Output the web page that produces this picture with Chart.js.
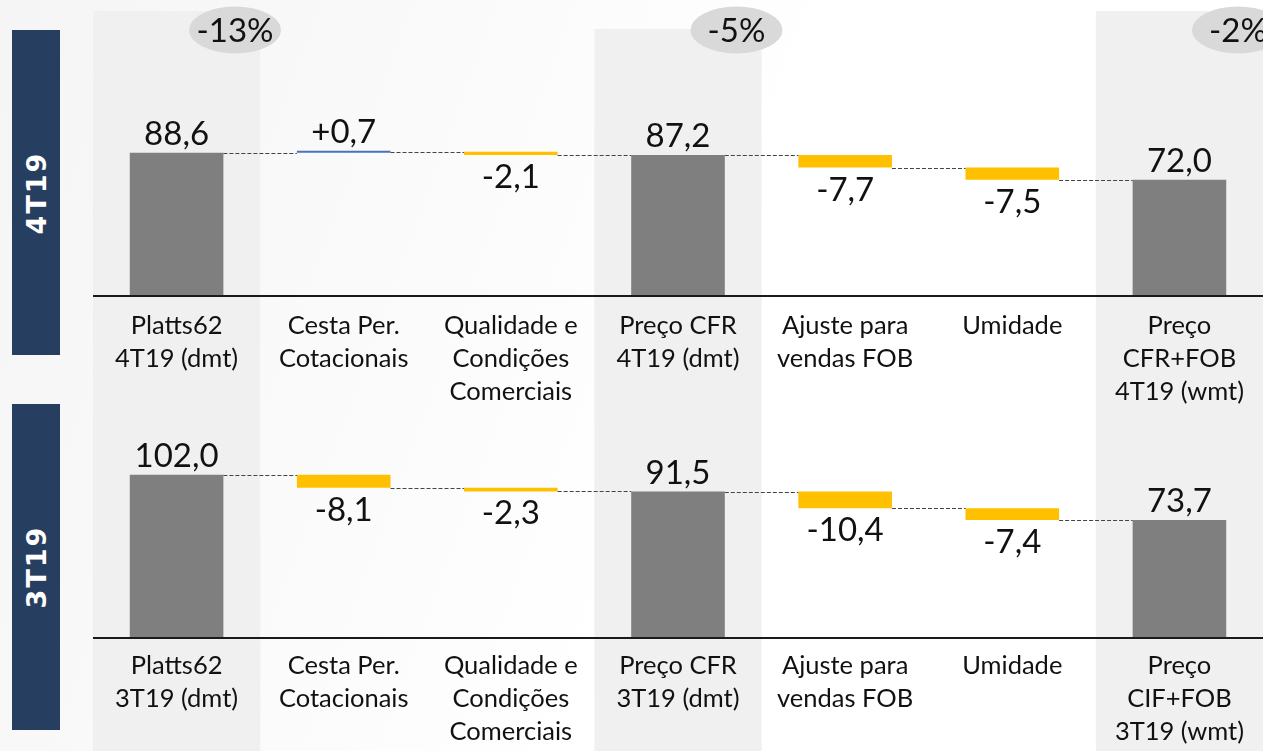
<!DOCTYPE html>
<html>
<head>
<meta charset="utf-8">
<script src="https://cdn.jsdelivr.net/npm/chart.js@4.4.1/dist/chart.umd.min.js"></script>
<style>
  html, body { margin: 0; padding: 0; }
  #wrap {
    position: relative;
    width: 1263px;
    height: 751px;
    overflow: hidden;
    background: linear-gradient(110deg, #f5f5f5 0%, #fafafa 30%, #ffffff 55%, #ffffff 100%);
  }
  canvas { position: absolute; left: 0; }
  #chartTop { top: 0; }
  #chartBottom { top: 410px; }
  .tag {
    position: absolute;
    left: 12px;
    width: 48px;
    background: #263f61;
    z-index: 2;
  }
  .tag span {
    position: absolute;
    left: 50%;
    top: 50%;
    transform: translate(-50%, -50%) rotate(-90deg);
    color: #fff;
    font-family: "DejaVu Sans", Verdana, sans-serif;
    font-weight: bold;
    font-size: 27px;
    letter-spacing: 2px;
    line-height: 1;
    white-space: nowrap;
  }
</style>
</head>
<body>
<div id="wrap">
  <div class="tag" style="top:30px;height:325px"><span>4T19</span></div>
  <div class="tag" style="top:404px;height:326px"><span>3T19</span></div>
  <canvas id="chartTop" width="1263" height="410"></canvas>
  <canvas id="chartBottom" width="1263" height="341"></canvas>
</div>
<script>
// categories (multi line tick labels)
var labels4T19 = [
  ["Platts62", "4T19 (dmt)"],
  ["Cesta Per.", "Cotacionais"],
  ["Qualidade e", "Condições", "Comerciais"],
  ["Preço CFR", "4T19 (dmt)"],
  ["Ajuste para", "vendas FOB"],
  ["Umidade"],
  ["Preço", "CFR+FOB", "4T19 (wmt)"]
];
var labels3T19 = [
  ["Platts62", "3T19 (dmt)"],
  ["Cesta Per.", "Cotacionais"],
  ["Qualidade e", "Condições", "Comerciais"],
  ["Preço CFR", "3T19 (dmt)"],
  ["Ajuste para", "vendas FOB"],
  ["Umidade"],
  ["Preço", "CIF+FOB", "3T19 (wmt)"]
];

// values: totals and deltas
var values4T19 = [88.6, 0.7, -2.1, 87.2, -7.7, -7.5, 72.0];
var values3T19 = [102.0, -8.1, -2.3, 91.5, -10.4, -7.4, 73.7];
var barTypes = ["total", "delta", "delta", "total", "delta", "delta", "total"];

// percent change badges over the total columns
var badgeText = ["-13%", "-5%", "-2%"];
var totalCols = [0, 3, 6];

var grayColor = "#7f7f7f";
var yellowColor = "#ffc000";
var blueColor = "#4472c4";
var labelFont = "Lato, 'Noto Sans', sans-serif";

function buildBars(values) {
  var bars = [];
  var levels = [];
  var colors = [];
  var level = 0;
  for (let i = 0; i < values.length; i++) {
    if (barTypes[i] == "total") {
      bars.push([0, values[i]]);
      level = values[i];
      colors.push(grayColor);
    } else {
      bars.push([level, level + values[i]]);
      level = level + values[i];
      colors.push(values[i] > 0 ? blueColor : yellowColor);
    }
    levels.push(level);
  }
  return { bars: bars, levels: levels, colors: colors };
}

function fmt(v, type) {
  var s = Math.abs(v).toFixed(1).replace(".", ",");
  if (type == "total") return s;
  return (v > 0 ? "+" : "-") + s;
}

var waterfallPlugin = {
  id: "waterfall",
  beforeDraw(chart, args, opts) {
    // light columns behind the totals, drawn before the axis labels
    var ctx = chart.ctx;
    var x = chart.scales.x;
    var catW = x.width / x.ticks.length;
    ctx.save();
    ctx.fillStyle = "#f0f0f0";
    for (let k = 0; k < totalCols.length; k++) {
      let cx = x.getPixelForValue(totalCols[k]);
      let top = opts.shadeTop[k];
      ctx.fillRect(cx - catW / 2, top, catW, chart.height - top);
    }
    ctx.restore();
  },
  afterDatasetsDraw(chart, args, opts) {
    var ctx = chart.ctx;
    var x = chart.scales.x;
    var y = chart.scales.y;
    var area = chart.chartArea;
    var meta = chart.getDatasetMeta(0);
    var catW = x.width / x.ticks.length;
    ctx.save();

    // axis line
    ctx.strokeStyle = "#1a1a1a";
    ctx.lineWidth = 2;
    ctx.beginPath();
    ctx.moveTo(area.left, area.bottom);
    ctx.lineTo(area.right, area.bottom);
    ctx.stroke();

    // dashed connectors
    ctx.strokeStyle = "#444";
    ctx.lineWidth = 1;
    ctx.setLineDash([4, 2]);
    for (let i = 0; i < meta.data.length - 1; i++) {
      let a = meta.data[i];
      let b = meta.data[i + 1];
      let ly = Math.round(y.getPixelForValue(opts.levels[i])) + 0.5;
      ctx.beginPath();
      ctx.moveTo(a.x + a.width / 2, ly);
      ctx.lineTo(b.x - b.width / 2, ly);
      ctx.stroke();
    }
    ctx.setLineDash([]);

    // value labels
    ctx.fillStyle = "#111";
    ctx.font = "33px " + labelFont;
    ctx.textAlign = "center";
    ctx.textBaseline = "alphabetic";
    for (let i = 0; i < meta.data.length; i++) {
      let el = meta.data[i];
      let top = Math.min(el.y, el.base);
      let bottom = Math.max(el.y, el.base);
      let v = opts.values[i];
      let txt = fmt(v, barTypes[i]);
      if (barTypes[i] == "total" || v > 0) {
        ctx.fillText(txt, el.x, top - 8);
      } else {
        ctx.fillText(txt, el.x, bottom + 33);
      }
    }

    // badges
    if (opts.badges) {
      for (let k = 0; k < totalCols.length; k++) {
        let cx = x.getPixelForValue(totalCols[k]) + catW * 0.35;
        let cy = 30;
        ctx.fillStyle = "#d9d9d9";
        ctx.beginPath();
        ctx.ellipse(cx, cy, 46, 23.5, 0, 0, Math.PI * 2);
        ctx.fill();
        ctx.fillStyle = "#111";
        ctx.textBaseline = "middle";
        ctx.fillText(opts.badges[k], cx, cy + 1);
      }
    }
    ctx.restore();
  }
};

function makeChart(id, labels, values, yMax, padTop, axisHeight, tickPad, shadeTop, badges) {
  var wf = buildBars(values);
  return new Chart(document.getElementById(id), {
    type: "bar",
    data: {
      labels: labels,
      datasets: [
        {
          data: wf.bars,
          backgroundColor: wf.colors,
          borderWidth: 0,
          minBarLength: 2,
          barPercentage: 0.56,
          categoryPercentage: 1.0,
        },
      ],
    },
    plugins: [waterfallPlugin],
    options: {
      responsive: false,
      animation: false,
      events: [],
      layout: { padding: { top: padTop, left: 93, right: 0, bottom: 0 } },
      plugins: {
        legend: { display: false },
        tooltip: { enabled: false },
        waterfall: { levels: wf.levels, values: values, shadeTop: shadeTop, badges: badges },
      },
      scales: {
        x: {
          grid: { display: false },
          border: { display: false },
          ticks: {
            color: "#111",
            padding: tickPad,
            maxRotation: 0,
            autoSkip: false,
            font: { family: labelFont, size: 25.5, lineHeight: 1.3 },
          },
          afterFit(scale) {
            scale.height = axisHeight;
          },
        },
        y: {
          display: false,
          min: 0,
          max: yMax,
        },
      },
    },
  });
}

makeChart("chartTop", labels4T19, values4T19, 177, 10, 114, 5, [11, 29, 11], badgeText);
makeChart("chartBottom", labels3T19, values3T19, 142.5, 0, 113, 3, [0, 0, 0], null);
</script>
</body>
</html>
